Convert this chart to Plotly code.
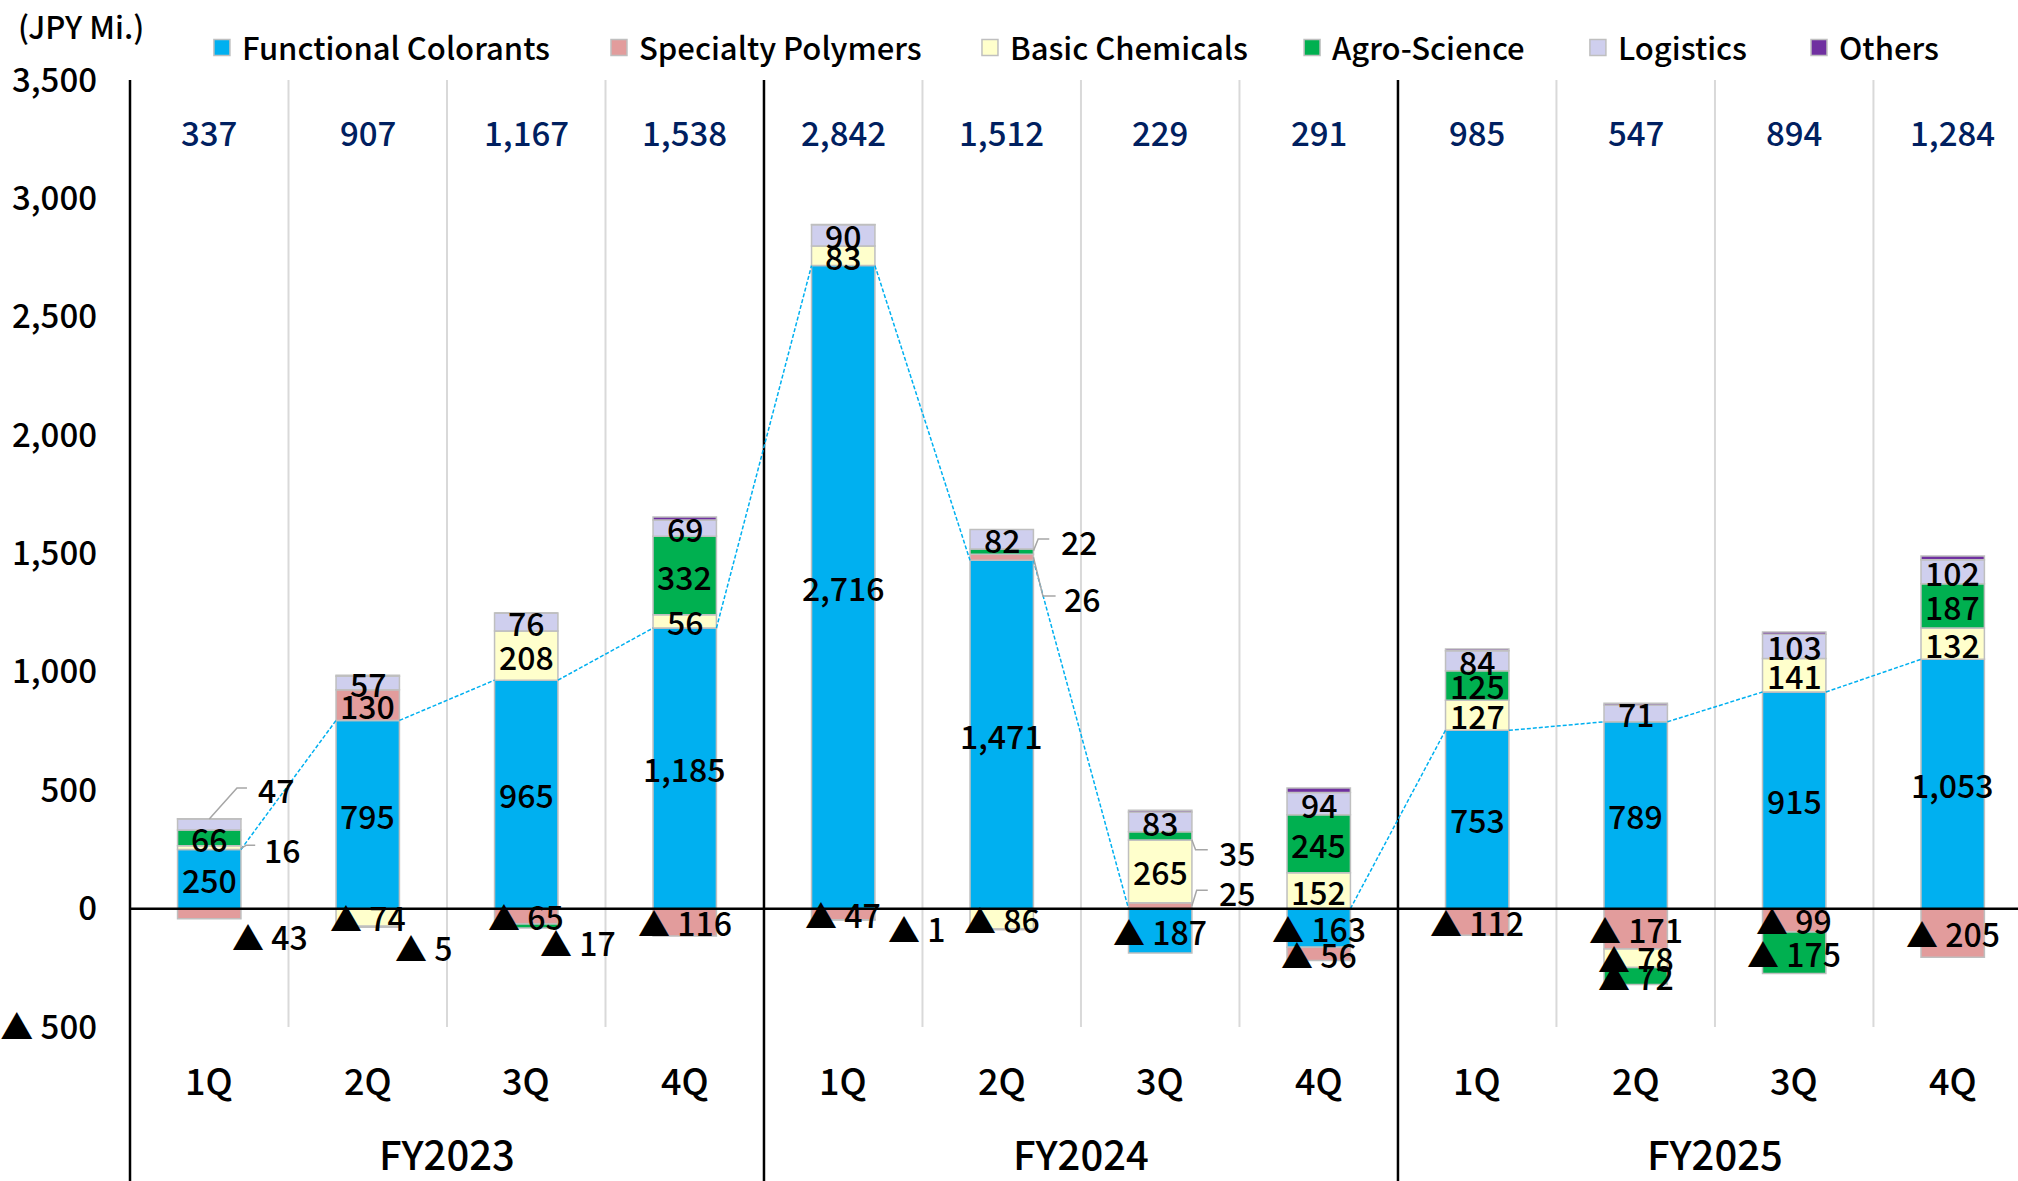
import plotly.graph_objects as go

# ---- data -----------------------------------------------------------------
quarters = ["1Q", "2Q", "3Q", "4Q"] * 3
fiscal_years = ["FY2023", "FY2024", "FY2025"]

functional_colorants = [250, 795, 965, 1185, 2716, 1471, -187, -163, 753, 789, 915, 1053]
specialty_polymers = [-43, 130, -65, -116, -47, 26, 25, -56, -112, -171, -99, -205]
basic_chemicals = [16, -74, 208, 56, 83, -86, 265, 152, 127, -78, 141, 132]
agro_science = [66, -5, -17, 332, -1, 22, 35, 245, 125, -72, -175, 187]
logistics = [47, 57, 76, 69, 90, 82, 83, 94, 84, 71, 103, 102]
others = [1, 4, 0, 12, 1, -3, 8, 19, 8, 8, 9, 15]
totals = [337, 907, 1167, 1538, 2842, 1512, 229, 291, 985, 547, 894, 1284]

series_names = ["Functional Colorants", "Specialty Polymers", "Basic Chemicals",
                "Agro-Science", "Logistics", "Others"]
series_values = [functional_colorants, specialty_polymers, basic_chemicals,
                 agro_science, logistics, others]

y_tickvals = [-500, 0, 500, 1000, 1500, 2000, 2500, 3000, 3500]

# ---- styling --------------------------------------------------------------
FONT = "Noto Sans CJK JP"
W = 500  # medium weight
colors = ["#00B0F0", "#E29C9C", "#FFFFCC", "#00B050", "#CFCFEE", "#7030A0"]
outline = "#BFBFBF"
bar_w = 0.4
n = len(quarters)
xs = list(range(n))


def fmt(v):
    return f"▲ {abs(v):,}" if v < 0 else f"{v:,}"


def tfont(size, color="#000000"):
    return dict(family=FONT, size=size, color=color, weight=W)


fig = go.Figure()

# stacked bars (relative mode: positives stack upward, negatives downward)
for name, vals, col in zip(series_names, series_values, colors):
    fig.add_trace(go.Bar(
        x=xs, y=vals, name=name, width=bar_w, showlegend=False,
        marker=dict(color=col, line=dict(color=outline, width=1.5)),
        hoverinfo="name+y",
    ))

# series line joining the top of the Functional Colorants column
sx, sy = [], []
for i in range(n - 1):
    sx += [i + bar_w / 2, i + 1 - bar_w / 2, None]
    sy += [max(functional_colorants[i], 0), max(functional_colorants[i + 1], 0), None]
fig.add_trace(go.Scatter(x=sx, y=sy, mode="lines", showlegend=False, hoverinfo="skip",
                         line=dict(color="#00B0F0", width=1.5, dash="4px,2px")))

# legend entries, each in its own legend box so they can be placed freely
legend_x = [0.0381, 0.2484, 0.4449, 0.6155, 0.7669, 0.884]
for k, (name, col) in enumerate(zip(series_names, colors)):
    lg = "legend" if k == 0 else f"legend{k + 1}"
    fig.add_trace(go.Scatter(
        x=[None], y=[None], mode="markers", name=name, legend=lg,
        marker=dict(symbol="square", size=16, color=col, line=dict(color=outline, width=1.5)),
    ))
    fig.update_layout({lg: dict(
        x=legend_x[k], y=1.034, xanchor="left", yanchor="middle",
        orientation="h", bgcolor="rgba(0,0,0,0)", borderwidth=0,
        font=tfont(31),
    )})

# segment labels (offsets for small segments that are labelled outside)
label_offsets = {
    # (series index, bar index): (dx from bar centre, y, leader path or None)
    (2, 0): (0.333, 253, [(0.2, 255), (0.235, 268), (0.29, 268)]),
    (4, 0): (0.295, 506, [(0.0, 379), (0.175, 510), (0.238, 510)]),
    (1, 0): (0.13, -114, None),
    (3, 1): (0.162, -163, None),
    (3, 2): (0.073, -141, None),
    (3, 4): (0.268, -82, None),
    (3, 5): (0.36, 1553, [(0.2, 1511), (0.23, 1561), (0.30, 1561)]),
    (1, 5): (0.38, 1313, [(0.2, 1484), (0.26, 1320), (0.34, 1320)]),
    (3, 6): (0.36, 239, [(0.2, 290), (0.223, 249), (0.30, 249)]),
    (1, 6): (0.36, 72, [(0.2, 12), (0.23, 78), (0.30, 78)]),
}

annotations = []
shapes = []
pos_base = [0.0] * n
neg_base = [0.0] * n
for s, vals in enumerate(series_values):
    for i, v in enumerate(vals):
        if v >= 0:
            lo, hi = pos_base[i], pos_base[i] + v
            pos_base[i] = hi
        else:
            hi, lo = neg_base[i], neg_base[i] + v
            neg_base[i] = lo
        if s == len(series_values) - 1:
            continue  # "Others" carries no label
        if (s, i) in label_offsets:
            dx, ly, path = label_offsets[(s, i)]
            annotations.append(dict(x=i + dx, y=ly, text=fmt(v), showarrow=False,
                                    xanchor="left", yanchor="middle", font=tfont(32)))
            if path:
                d = "M " + " L ".join(f"{i + px},{py}" for px, py in path)
                shapes.append(dict(type="path", path=d, xref="x", yref="y",
                                   line=dict(color="#A6A6A6", width=1.5), layer="above"))
        else:
            annotations.append(dict(x=i, y=(lo + hi) / 2, text=fmt(v), showarrow=False,
                                    xanchor="center", yanchor="middle", font=tfont(32)))

# quarterly totals along the top
for i, t in enumerate(totals):
    annotations.append(dict(x=i, y=3280, text=fmt(t), showarrow=False,
                            font=tfont(33, "#002060")))

# category labels below the plot
for i, q in enumerate(quarters):
    annotations.append(dict(x=i, xref="x", y=-0.055, yref="paper", text=q, showarrow=False,
                            yanchor="middle", font=tfont(36)))
for g, fy in enumerate(fiscal_years):
    annotations.append(dict(x=g * 4 + 1.5, xref="x", y=-0.133, yref="paper", text=fy,
                            showarrow=False, yanchor="middle", height=40,
                            font=tfont(40)))

annotations.append(dict(x=-0.0604, xref="paper", y=1.058, yref="paper", text="(JPY Mi.)",
                        showarrow=False, xanchor="left", yanchor="middle", font=tfont(31)))

# light separators between quarters, dark separators between fiscal years
for i in range(n - 1):
    b = i + 0.5
    if (i + 1) % 4 == 0:
        shapes.append(dict(type="line", xref="x", yref="paper", x0=b, x1=b, y0=1, y1=-0.2,
                           line=dict(color="#000000", width=2.5), layer="below"))
    else:
        shapes.append(dict(type="line", xref="x", yref="y", x0=b, x1=b, y0=-500, y1=3500,
                           line=dict(color="#D9D9D9", width=2), layer="below"))
shapes.append(dict(type="line", xref="paper", yref="paper", x0=0, x1=0, y0=1, y1=-0.2,
                   line=dict(color="#000000", width=2.5)))
shapes.append(dict(type="line", xref="paper", yref="y", x0=0, x1=1, y0=0, y1=0,
                   line=dict(color="#000000", width=2.5)))

fig.update_layout(
    width=2018, height=1181,
    margin=dict(l=130, r=0, t=80, b=154),
    barmode="relative",
    plot_bgcolor="#FFFFFF", paper_bgcolor="#FFFFFF",
    font=tfont(32),
    xaxis=dict(range=[-0.5, 11.412], showticklabels=False, showgrid=False,
               zeroline=False, showline=False, ticks=""),
    yaxis=dict(range=[-500, 3500], tickvals=y_tickvals,
               ticktext=[fmt(v) for v in y_tickvals],
               tickfont=tfont(33),
               showgrid=False, zeroline=False, showline=False, ticks="",
               ticklabelstandoff=32),
    annotations=annotations,
    shapes=shapes,
)

fig.write_html("out.html")
